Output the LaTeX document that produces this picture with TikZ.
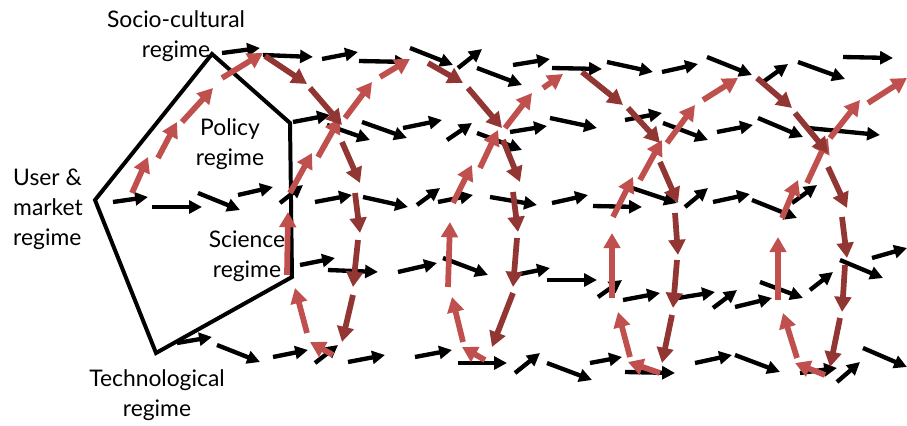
\documentclass[tikz,border=0pt]{standalone}
\usepackage{fontspec}
\setmainfont{Lato}
\usepackage{tikz}
\usetikzlibrary{arrows.meta}
\definecolor{riseRed}{RGB}{192, 80, 77}
\definecolor{fallRed}{RGB}{146, 54, 52}

\begin{document}
\begin{tikzpicture}[x=0.03cm, y=-0.03cm,
    lbl/.style={align=center, font=\fontsize{19.5}{25.5}\selectfont, inner sep=0pt},
    flow/.style={line width=3.7pt, black,
                 -{Triangle[length=11pt, width=11pt]}},
    rise/.style={line width=4.9pt, riseRed,
                 -{Triangle[length=13pt, width=14pt]}},
    fall/.style={line width=4.9pt, fallRed,
                 -{Triangle[length=13pt, width=14pt]}}]

    \useasboundingbox (0,0) rectangle (907,425);

    % regime corners
    \coordinate (cU)  at (95,200);
    \coordinate (cS)  at (212,54);
    \coordinate (cP)  at (290,123);
    \coordinate (cSc) at (292,277);
    \coordinate (cT)  at (156,353);

    \draw[line width=3.4pt, line join=miter] (cU) -- (cS) -- (cP) -- (cSc) -- (cT) -- cycle;

    \node[lbl] (socio)   at (176,36)  {Socio-cultural\\regime};
    \node[lbl, align=left, anchor=west] (user) at (13,209) {User \&\\market\\regime};
    \node[lbl] (policy)  at (230,144) {Policy\\regime};
    \node[lbl] (science) at (247,256) {Science\\regime};
    \node[lbl] (techno)  at (157,395) {Technological\\regime};

    % black arrows, row by row
    \foreach \xa/\ya/\xb/\yb in {
        222/53/260/48, 263/55/313/57, 322/59/358/52, 359/61/408/62,
        410/48/453/65, 458/68/482/49, 477/68/522/85, 513/65/550/59,
        552/68/602/69, 607/62/653/72, 662/72/698/64, 707/57/752/75,
        763/82/788/64, 798/62/845/79, 843/57/893/58,
        293/122/330/115, 327/125/370/140, 362/122/407/138, 403/128/442/120,
        447/140/472/123, 477/133/522/150, 510/132/547/126, 550/118/597/128,
        625/120/662/113, 663/123/708/140, 717/132/753/125, 758/118/803/137,
        808/128/880/135,
        113/202/148/197, 152/207/202/207, 198/193/240/210, 238/195/273/187,
        280/203/303/185, 315/202/352/195, 363/197/408/207, 417/205/440/188,
        438/202/473/195, 490/197/537/205, 552/203/588/195, 593/206/642/207,
        632/188/677/203, 685/207/708/188, 713/202/750/194, 752/200/797/218,
        792/203/817/185,
        300/265/335/258, 328/270/378/272, 398/272/437/263, 443/258/488/275,
        515/275/550/268, 547/280/597/280, 598/297/622/280, 623/300/660/293,
        678/298/715/292, 713/308/737/290, 735/307/772/298, 760/282/803/298,
        810/290/833/272, 840/260/883/278, 872/258/907/248,
        177/343/212/337, 217/345/260/362, 273/357/308/350, 315/363/338/345,
        348/362/385/355, 415/357/452/350, 458/363/507/363, 515/373/540/353,
        547/363/592/380, 590/363/622/357, 625/372/675/373, 695/363/732/355,
        735/355/780/372, 800/373/837/368, 837/382/860/362, 863/348/907/367}
        \draw[flow] (\xa,\ya) -- (\xb,\yb);

    % red loops, going up
    \foreach \xa/\ya/\xb/\yb in {
        132/193/148/157, 158/158/177/122, 182/122/213/88, 222/78/263/53,
        287/275/288/212, 290/193/312/153, 318/157/340/118, 345/118/372/82,
        380/77/410/59, 307/333/295/288, 333/355/310/342,
        453/203/472/165, 480/168/498/130, 505/128/532/93, 543/88/563/74,
        448/287/450/222, 463/342/452/297, 485/360/462/347,
        613/217/633/177, 640/180/662/140, 667/143/695/105, 703/100/738/78,
        612/298/612/233, 630/357/618/312, 660/373/628/362,
        782/218/798/180, 807/183/828/138, 830/138/860/100, 868/103/907/78,
        778/300/778/237, 797/358/783/313, 825/375/795/363}
        \draw[rise] (\xa,\ya) -- (\xb,\yb);

    % red loops, going down
    \foreach \xa/\ya/\xb/\yb in {
        265/56/307/84, 310/88/342/125, 342/142/360/183, 355/193/360/233,
        358/240/353/287, 353/295/342/342,
        428/63/463/83, 468/88/502/128, 503/140/520/182, 513/192/518/232,
        517/238/513/287, 513/293/492/347,
        582/72/623/105, 628/108/660/143, 660/162/678/203, 675/213/678/255,
        677/260/673/308, 672/315/662/363,
        757/78/792/108, 795/113/828/153, 828/167/847/208, 842/217/847/258,
        845/265/842/312, 840/318/830/367}
        \draw[fall] (\xa,\ya) -- (\xb,\yb);

\end{tikzpicture}
\end{document}
